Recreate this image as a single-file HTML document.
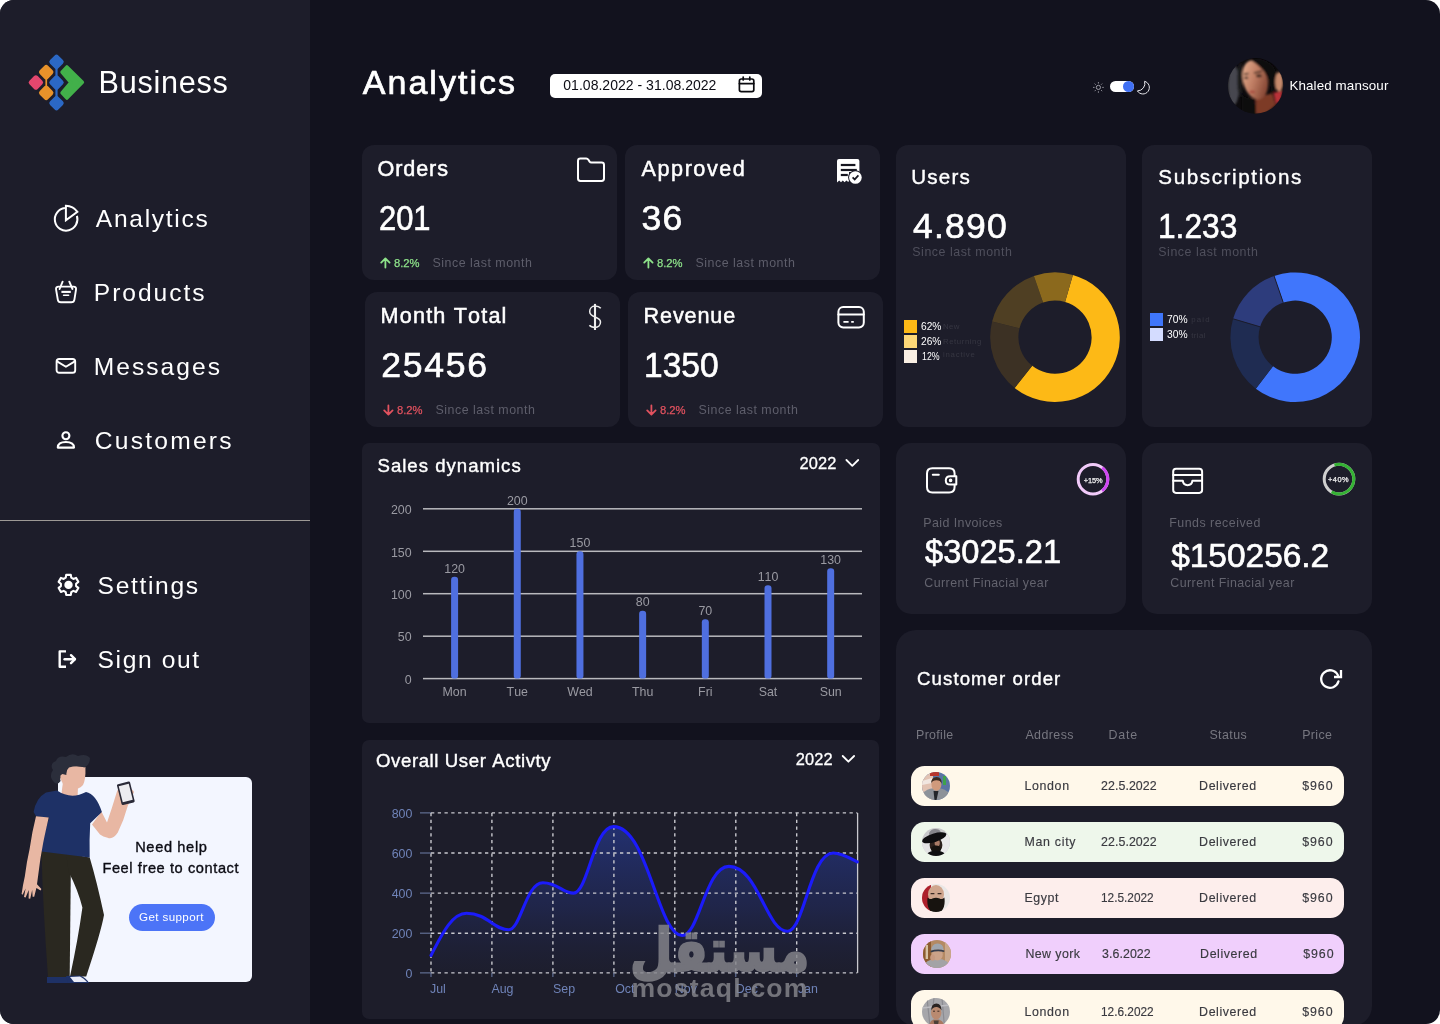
<!DOCTYPE html>
<html lang="en">
<head>
<meta charset="utf-8">
<title>Business Analytics Dashboard</title>
<style>
*{margin:0;padding:0;box-sizing:border-box}
html,body{width:1440px;height:1024px;overflow:hidden;background:#fff}
body{font-family:"Liberation Sans",sans-serif;font-kerning:none}
#app{position:absolute;left:0;top:0;width:1440px;height:1024px;background:#12121e;border-radius:14px;overflow:hidden}
.t{position:absolute;white-space:nowrap;line-height:1.2}
.b{position:absolute}
svg{position:absolute;overflow:visible}
.card{position:absolute;background:#1d1d2a}

</style>
</head>
<body>
<div id="app">
<div class="b" style="left:0;top:0;width:310px;height:1024px;background:#1d1d2a"></div>
<svg style="left:28px;top:54px" width="58" height="58" viewBox="28 54 58 58"><rect x="30.05" y="76.65" width="11.7" height="11.7" rx="2.6" transform="rotate(45 35.9 82.5)" fill="#e4476e"/><rect x="45.4" y="72" width="1.7" height="21" fill="#e8922a"/><rect x="40.35" y="66.35" width="11.7" height="11.7" rx="2.6" transform="rotate(45 46.2 72.2)" fill="#e8922a"/><rect x="40.35" y="86.95" width="11.7" height="11.7" rx="2.6" transform="rotate(45 46.2 92.8)" fill="#e8922a"/><rect x="55.4" y="62" width="2.2" height="41" fill="#2b68c5"/><rect x="50.65" y="56.05" width="11.7" height="11.7" rx="2.6" transform="rotate(45 56.5 61.9)" fill="#2b68c5"/><rect x="50.65" y="76.65" width="11.7" height="11.7" rx="2.6" transform="rotate(45 56.5 82.5)" fill="#2b68c5"/><rect x="50.65" y="97.25" width="11.7" height="11.7" rx="2.6" transform="rotate(45 56.5 103.1)" fill="#2b68c5"/><path d="M66.9 66.9 L82.4 82.3 L66.9 98.1 L62.0 92.9 L70.7 82.5 L62.0 72.2Z" fill="#42b04a" stroke="#42b04a" stroke-width="3.4" stroke-linejoin="round"/></svg>
<svg style="left:52px;top:204px" width="28" height="28" viewBox="0 0 28 28" fill="none" stroke="#fff" stroke-width="2" stroke-linecap="butt" stroke-linejoin="miter">
<path d="M12.9 4.1 A11.3 11.3 0 1 0 24.9 11.9"/>
<path d="M13.9 16.3 V1.7 A14.6 14.6 0 0 1 25.4 7.8 Z" stroke-linejoin="miter"/>
</svg>
<svg style="left:54px;top:280px" width="24" height="24" viewBox="0 0 24 24" fill="none" stroke="#fff" stroke-width="1.9" stroke-linecap="round" stroke-linejoin="round">
<path d="M4.6 6.6 H19.5 Q22.5 6.6 22 9.6 L20.4 19.6 Q20 22.3 17.2 22.3 H7 Q4.2 22.3 3.8 19.6 L2.1 9.6 Q1.6 6.6 4.6 6.6Z"/>
<path d="M8.6 1.7 L5.6 9"/><path d="M15.3 1.7 L18.5 9"/>
<path d="M7.4 11.9 H16.8" stroke-width="2.1" stroke-linecap="butt"/><path d="M9.6 15.3 H14.6" stroke-width="1.6"/>
</svg>
<svg style="left:55px;top:357px" width="22" height="18" viewBox="0 0 22 18" fill="none" stroke="#fff" stroke-width="1.9" stroke-linecap="round" stroke-linejoin="round">
<rect x="1.6" y="2" width="18.6" height="13.8" rx="2.6"/>
<path d="M2.4 4.6 L10.9 9.8 L19.4 4.6"/>
</svg>
<svg style="left:55px;top:430px" width="22" height="20" viewBox="0 0 22 20" fill="none" stroke="#fff" stroke-width="1.9" stroke-linecap="round" stroke-linejoin="round">
<circle cx="10.9" cy="5.7" r="3.5" stroke-width="2.1"/>
<path d="M2.8 17.6 Q2.8 12 10.9 12 Q19 12 19 17.6 Z" stroke-width="2.1"/>
</svg>
<div class="b" style="left:0;top:519.8px;width:310px;height:1.2px;background:#9d9995"></div>
<svg style="left:56px;top:573px" width="25" height="25" viewBox="0 0 25 25" fill="none" stroke="#fff" stroke-width="2.1" stroke-linejoin="round">
<path d="M9.74 4.71 L10.18 1.86 L14.82 1.86 L15.26 4.71 L17.35 5.92 L20.03 4.88 L22.35 8.89 L20.11 10.70 L20.11 13.10 L22.35 14.91 L20.03 18.92 L17.35 17.88 L15.26 19.09 L14.82 21.94 L10.18 21.94 L9.74 19.09 L7.65 17.88 L4.97 18.92 L2.65 14.91 L4.89 13.10 L4.89 10.70 L2.65 8.89 L4.97 4.88 L7.65 5.92Z"/>
<circle cx="12.5" cy="11.9" r="4.2" fill="#fff" stroke="none"/>
</svg>
<svg style="left:56px;top:648px" width="24" height="22" viewBox="0 0 24 22" fill="none" stroke="#fff" stroke-width="2.4" stroke-linejoin="round">
<path d="M10 3.4 H3.7 V18.8 H10" stroke-linecap="butt"/>
<path d="M8.6 11.2 H18.6" stroke-linecap="round"/><path d="M15 7.2 L19 11.2 L15 15.2" stroke-linecap="round"/>
</svg>
<div class="b" style="left:58px;top:777px;width:194px;height:205px;background:#f3f6ff;border-radius:6px"></div>
<svg style="left:20px;top:750px" width="125" height="236" viewBox="20 750 125 236">
<!-- pants: left leg -->
<path d="M41.4 851 L71 854 L69.7 977.4 L48 977.4 Q43 910 41.4 851Z" fill="#2a2820"/>
<!-- pants: right leg -->
<path d="M66 853 L89.7 857.4 Q97 882 104 915 Q101 932 86.2 976.4 L70 976.4 Q78 940 82.4 907.6 Q78 890 68.7 872Z" fill="#2a2820"/>
<!-- shoes -->
<path d="M47 977 L70 977 L72 983 L47 983Z" fill="#1e3166"/>
<path d="M66 976 L80 975.6 Q86 978 89 983 L68 983Z" fill="#1e3166"/>
<path d="M70 977 L80 976.4 Q85 979 87 982 L74 982Z" fill="#e9ecf7"/>
<!-- raised arm -->
<path d="M101.4 811.5 L107 822.6 Q112 808 116.5 793 Q117.5 788 122 786.5 L128 788 Q133 789 134 792 Q131 800 127.9 805.5 Q124 820 117.8 832.6 Q113 840 107.6 837.8 Q103 836.6 100 834.4 L92 824.6Z" fill="#e8b7a3"/>
<!-- phone -->
<g transform="rotate(-14 126 793)"><rect x="119" y="782.5" width="13.5" height="21.5" rx="1.4" fill="#2a2a38"/><rect x="120.6" y="784.6" width="10.3" height="16.6" fill="#ececf0"/></g>
<!-- neck & head -->
<path d="M63 782 L78 786 L77.5 799 L61 797Z" fill="#e8b7a3"/>
<path d="M59.5 774 Q60 765.5 72 766 L85.4 767 Q86 779 83 785 Q78 790.5 70 789 Q61 786 59.5 774Z" fill="#e8b7a3"/>
<!-- hair -->
<path d="M55 783 Q48 777 53 770 Q49 764 56 761 Q58 755 66 757 Q72 752 78 756 Q86 753 90 758 Q90 765 84.5 767.5 Q77 764.5 69 767.5 Q66 770 66.4 775 L62.4 774 Q59 775 60.6 781 Q58 785 55 783Z" fill="#2b2e3b"/>
<!-- shirt -->
<path d="M57 790.5 Q71 800 86 792 Q96 794 101.9 812 L90.2 823.2 Q89.2 840 89.7 857.6 L41.4 851.6 Q43 836 49.2 817.8 L36 816.3 L33.6 812 Q36 798 46 792.5Z" fill="#1e3166"/>
<!-- front arm (viewer's left) -->
<path d="M36 816.3 L48.7 817.6 Q45 834 43.3 842.2 L40.4 858.8 L37 884.2 L41.4 889 L40.6 890.4 L36.4 888 L34.2 896.8 L32.6 896.8 L32.2 890 L30.2 898.8 L28.6 898.6 L28.8 890 L25.6 897.6 L24 897 L25.6 888.6 L22.6 894.8 L21.6 894 Q23 884 24.8 876.4 Q26.6 862 29.6 849 Q32 832 36 816.3Z" fill="#e8b7a3"/>
</svg>

<div class="b" style="left:128.8px;top:904.3px;width:86.2px;height:26.4px;border-radius:14px;background:#4c74f7"></div>
<div class="b" style="left:550px;top:74px;width:212px;height:24px;border-radius:5px;background:#fff"></div>
<svg style="left:737px;top:76px" width="19" height="18" viewBox="0 0 19 18" fill="none" stroke="#0a0a0f" stroke-width="1.7" stroke-linecap="round" stroke-linejoin="round">
<rect x="2.4" y="3" width="14.4" height="12.6" rx="1.9"/><path d="M2.4 7.6 H16.8"/><path d="M6.2 1 V4"/><path d="M12.8 1 V4"/></svg>
<svg style="left:1092px;top:81px" width="13" height="13" viewBox="0 0 13 13" fill="none" stroke="#a9a9b2" stroke-width="0.9" stroke-linecap="butt">
<circle cx="6.4" cy="6.4" r="2.1"/>
<path d="M6.40 2.50 L6.40 1.10 M9.16 3.64 L10.15 2.65 M10.30 6.40 L11.70 6.40 M9.16 9.16 L10.15 10.15 M6.40 10.30 L6.40 11.70 M3.64 9.16 L2.65 10.15 M2.50 6.40 L1.10 6.40 M3.64 3.64 L2.65 2.65"/></svg>
<div class="b" style="left:1110px;top:81px;width:24.2px;height:11.4px;border-radius:6px;background:#fff"></div>
<div class="b" style="left:1122.9px;top:81px;width:11.4px;height:11.4px;border-radius:50%;background:#4070f4"></div>
<svg style="left:1136px;top:80px" width="15" height="16" viewBox="0 0 15 16" fill="none" stroke="#e9e9ee" stroke-width="1" stroke-linejoin="round">
<path d="M8.6 1.3 A6.45 6.45 0 1 1 1.4 10.9 A7.5 7.5 0 0 0 8.6 1.3Z"/></svg>
<svg style="left:1222px;top:52px" width="68" height="68" viewBox="0 0 1024 1024">
<defs>
<clipPath id="avc"><circle cx="505" cy="510" r="419"/></clipPath>
<filter id="avb" x="-20%" y="-20%" width="140%" height="140%"><feGaussianBlur stdDeviation="14"/></filter>
<linearGradient id="avf" x1="0.1" y1="0.1" x2="0.9" y2="0.9"><stop offset="0" stop-color="#e3ab8c"/><stop offset=".45" stop-color="#c07e64"/><stop offset="1" stop-color="#7a3c2b"/></linearGradient>
</defs>
<g clip-path="url(#avc)">
<rect width="1024" height="1024" fill="#0d0b0d"/>
<g filter="url(#avb)">
<ellipse cx="175" cy="500" rx="85" ry="300" fill="#46474f"/>
<ellipse cx="270" cy="420" rx="40" ry="260" fill="#1b1a1d"/>
<path d="M500 690 L760 620 L810 800 L650 940 L505 940Z" fill="#7d3a28"/>
<ellipse cx="500" cy="420" rx="185" ry="300" transform="rotate(-14 500 420)" fill="url(#avf)"/>
<path d="M430 120 Q600 60 760 200 Q850 320 840 520 L750 620 Q720 430 640 300 Q560 200 430 120Z" fill="#0c0a0c"/>
<path d="M300 640 Q380 720 500 700 L515 940 L300 940Z" fill="#0c0a0c"/>
<ellipse cx="860" cy="450" rx="60" ry="150" fill="#c68a6c"/>
<path d="M775 615 L915 585 L890 720 L815 795Z" fill="#b93038"/>
<path d="M330 335 L400 325 M480 315 L600 290" stroke="#3a2a22" stroke-width="22" fill="none"/>
<ellipse cx="365" cy="390" rx="32" ry="16" fill="#2a1c18"/><ellipse cx="555" cy="360" rx="45" ry="20" fill="#2a1c18"/>
<ellipse cx="455" cy="600" rx="45" ry="18" fill="#a8453c"/>
</g>
</g>
</svg>

<div class="card" style="left:362px;top:145px;width:255px;height:135px;border-radius:12px"></div>
<svg style="left:380px;top:257px" width="11" height="12" viewBox="0 0 11 12" fill="none" stroke="#8ee38a" stroke-width="1.8" stroke-linecap="round" stroke-linejoin="round"><path d="M5.4 10.6 V1.6 M1.2 5.6 L5.4 1.4 L9.6 5.6"/></svg>
<svg style="left:576px;top:156px" width="30" height="28" viewBox="0 0 30 28" fill="none" stroke="#fff" stroke-width="2" stroke-linecap="round" stroke-linejoin="round">
<path d="M2 5 Q2 2.6 4.4 2.6 H10.2 Q11.6 2.6 12.4 3.8 L13.6 5.6 Q14.2 6.4 15.4 6.4 H25.6 Q28 6.4 28 8.8 V22.6 Q28 25 25.6 25 H4.4 Q2 25 2 22.6Z"/></svg>
<div class="card" style="left:625px;top:145px;width:255px;height:135px;border-radius:12px"></div>
<svg style="left:643px;top:257px" width="11" height="12" viewBox="0 0 11 12" fill="none" stroke="#8ee38a" stroke-width="1.8" stroke-linecap="round" stroke-linejoin="round"><path d="M5.4 10.6 V1.6 M1.2 5.6 L5.4 1.4 L9.6 5.6"/></svg>
<svg style="left:836px;top:158px" width="28" height="28" viewBox="0 0 28 28">
<path d="M1 3 Q1 1 3 1 H21.4 Q23.4 1 23.4 3 V14 H13 V23 L12.2 24 L10.4 22.6 L8.6 24.2 L6.8 22.6 L5 24.2 L3.2 22.6 L1 24.4Z" fill="#fff"/>
<rect x="4.8" y="5.9" width="14.6" height="2.2" fill="#15151f"/><rect x="4.8" y="10.9" width="16" height="2.2" fill="#15151f"/><rect x="4.8" y="15.9" width="7" height="2.2" fill="#15151f"/>
<circle cx="19.4" cy="19.5" r="7.3" fill="#1d1d2a"/><circle cx="19.4" cy="19.5" r="6.3" fill="#fff"/>
<path d="M16.6 19.3 L18.7 21.4 L22.4 17.4" fill="none" stroke="#15151f" stroke-width="1.7" stroke-linecap="butt" stroke-linejoin="miter"/></svg>
<div class="card" style="left:365px;top:292px;width:255px;height:135px;border-radius:12px"></div>
<svg style="left:383px;top:404px" width="11" height="12" viewBox="0 0 11 12" fill="none" stroke="#e2525f" stroke-width="1.8" stroke-linecap="round" stroke-linejoin="round"><path d="M5.4 1.4 V10.4 M1.2 6.4 L5.4 10.6 L9.6 6.4"/></svg>
<svg style="left:0;top:0" width="1440" height="1024" viewBox="0 0 1440 1024" fill="none" stroke="#ededed" stroke-linecap="butt">
<path d="M600.8 308.3 C599.5 306.7 597.5 306 595 306 C591.8 306 589.7 308.6 589.7 311.5 C589.7 314.5 592 315.9 595 317 C598 318.1 600.5 319.3 600.5 322 C600.5 325.2 598.2 327.4 595 327.4 C592.6 327.4 590.5 326.8 589.4 325.3" stroke-width="1.5"/>
<path d="M595 303.9 V330" stroke-width="2.1"/></svg>
<div class="card" style="left:628px;top:292px;width:255px;height:135px;border-radius:12px"></div>
<svg style="left:646px;top:404px" width="11" height="12" viewBox="0 0 11 12" fill="none" stroke="#e2525f" stroke-width="1.8" stroke-linecap="round" stroke-linejoin="round"><path d="M5.4 1.4 V10.4 M1.2 6.4 L5.4 10.6 L9.6 6.4"/></svg>
<svg style="left:836px;top:305px" width="30" height="25" viewBox="0 0 30 25" fill="none" stroke="#fff" stroke-width="2" stroke-linecap="round" stroke-linejoin="round">
<rect x="2.4" y="2" width="25.4" height="20.4" rx="4.8"/><path d="M2.4 9.4 H27.8"/><path d="M7.4 16.9 H12.6 M15.2 16.9 H17.8" stroke-linecap="butt" stroke-width="1.9"/></svg>
<div class="card" style="left:896px;top:145.3px;width:230px;height:282px;border-radius:12px"></div>
<svg style="left:0;top:0" width="1440" height="1024" viewBox="0 0 1440 1024"><path d="M1072.86 274.91 A64.8 64.8 0 1 1 1014.66 387.91 L1032.22 365.84 A36.6 36.6 0 1 0 1065.09 302.02Z" fill="#fdb916"/><path d="M1014.66 387.91 A64.8 64.8 0 0 1 992.12 321.52 L1019.49 328.35 A36.6 36.6 0 0 0 1032.22 365.84Z" fill="#3c3124"/><path d="M992.12 321.52 A64.8 64.8 0 0 1 1033.90 275.93 L1043.08 302.59 A36.6 36.6 0 0 0 1019.49 328.35Z" fill="#4f3f23"/><path d="M1033.90 275.93 A64.8 64.8 0 0 1 1072.86 274.91 L1065.09 302.02 A36.6 36.6 0 0 0 1043.08 302.59Z" fill="#8b691d"/></svg>
<div class="b" style="left:903.8px;top:319.90px;width:13.4px;height:13px;background:#fdb916"></div>
<div class="b" style="left:903.8px;top:334.95px;width:13.4px;height:13px;background:#fdd877"></div>
<div class="b" style="left:903.8px;top:350.00px;width:13.4px;height:13px;background:#faf0e4"></div>
<div class="card" style="left:1142px;top:145.3px;width:230px;height:282px;border-radius:12px"></div>
<svg style="left:0;top:0" width="1440" height="1024" viewBox="0 0 1440 1024"><path d="M1274.10 275.93 A64.8 64.8 0 1 1 1255.84 388.68 L1272.97 366.28 A36.6 36.6 0 1 0 1283.28 302.59Z" fill="#4076fc"/><path d="M1255.84 388.68 A64.8 64.8 0 0 1 1233.07 318.80 L1260.11 326.81 A36.6 36.6 0 0 0 1272.97 366.28Z" fill="#1f2c52"/><path d="M1233.07 318.80 A64.8 64.8 0 0 1 1274.10 275.93 L1283.28 302.59 A36.6 36.6 0 0 0 1260.11 326.81Z" fill="#2d3c7c"/><path d="M1260.11 326.81 L1233.07 318.80" stroke="#1a1a26" stroke-width="0.9"/><path d="M1283.28 302.59 L1274.10 275.93" stroke="#1a1a26" stroke-width="0.9"/></svg>
<div class="b" style="left:1150.1px;top:313.20px;width:12.8px;height:12.5px;background:#3f76fb"></div>
<div class="b" style="left:1150.1px;top:328.40px;width:12.8px;height:12.5px;background:#d4dcff"></div>
<div class="card" style="left:896.2px;top:443px;width:229.8px;height:171px;border-radius:15px"></div>
<svg style="left:924px;top:466px" width="35" height="29" viewBox="0 0 35 29" fill="none" stroke="#fff" stroke-width="2" stroke-linecap="round" stroke-linejoin="round">
<path d="M30.6 10 V7.6 Q30.6 2.2 25.2 2.2 H8.4 Q3 2.2 3 7.6 V21.1 Q3 26.5 8.4 26.5 H25.2 Q30.6 26.5 30.6 21.1 V18.8"/>
<path d="M32.3 10.2 H26.4 Q21.8 10.2 21.8 14.4 Q21.8 18.6 26.4 18.6 H32.3Z"/>
<circle cx="26.6" cy="14.4" r="1.2" fill="#fff" stroke-width="1.2"/><path d="M8.8 8.8 H14.8"/></svg>
<svg style="left:0;top:0" width="1440" height="1024" viewBox="0 0 1440 1024" fill="none" stroke-width="3"><circle cx="1093" cy="479.2" r="14.8" stroke="#f1caf9"/><path d="M1102.31 467.70 A14.8 14.8 0 0 1 1102.11 490.86" stroke="#cf47f2"/></svg>
<div class="card" style="left:1142.2px;top:443px;width:229.8px;height:171px;border-radius:15px"></div>
<svg style="left:1170.8px;top:466.6px" width="35" height="29" viewBox="0 0 35 29" fill="none" stroke="#fff" stroke-width="2" stroke-linecap="round" stroke-linejoin="round">
<rect x="2.2" y="1.7" width="28.9" height="24.2" rx="2.8"/><path d="M2.2 7.9 H31.1"/>
<path d="M2.2 13.7 H11.8 Q12.2 18.2 16.6 18.2 Q21 18.2 21.4 13.7 H31.1"/></svg>
<svg style="left:0;top:0" width="1440" height="1024" viewBox="0 0 1440 1024" fill="none" stroke-width="3"><circle cx="1339" cy="479.1" r="14.8" stroke="#cfcfcf"/><path d="M1334.43 465.02 A14.8 14.8 0 1 1 1331.60 491.92" stroke="#35b234"/></svg>
<div class="card" style="left:896.3px;top:630.2px;width:475.7px;height:396px;border-radius:20px"></div>
<svg style="left:1318px;top:667px" width="26" height="25" viewBox="0 0 26 25" fill="none" stroke="#fff" stroke-width="2.3">
<path d="M19.9 8.2 A8.8 8.8 0 1 0 20.5 14.3" stroke-linecap="round"/><path d="M16 10 H23 V2.9" stroke-linecap="butt" stroke-linejoin="miter"/></svg>
<div class="b" style="left:896.3px;top:630.2px;width:475.7px;height:396px;border-radius:20px;overflow:hidden">
<div class="b" style="left:14.5px;top:135.8px;width:433.4px;height:40px;border-radius:13.5px;background:#fff8ea"></div>
<svg style="left:25.5px;top:141.8px" width="28" height="28" viewBox="0 0 28 28"><defs><clipPath id="avc0"><circle cx="14" cy="14" r="14"/></clipPath></defs><g clip-path="url(#avc0)"><rect width="28" height="28" fill="#5a74a2"/><rect width="11" height="28" fill="#e2c2b2"/><path d="M0 9 L10 6 L10 11 L0 13Z" fill="#f1e6e0"/><rect x="21" y="4" width="3" height="9" fill="#3fa34a"/><rect x="8" y="0" width="9" height="4" fill="#b8352c"/><ellipse cx="14" cy="27" rx="15.5" ry="11" fill="#8d9299"/><path d="M11.5 19 L16.5 19 L14.5 28 L12.5 28Z" fill="#22252a"/><ellipse cx="14.4" cy="12.6" rx="5" ry="6.2" fill="#d09a7c"/><path d="M9.2 11.5 Q9 5.2 14.6 5 Q20 5.2 19.6 11.6 Q18.6 8.2 14.4 8.2 Q10.4 8.2 9.2 11.5Z" fill="#3b2a20"/></g></svg>
<div class="b" style="left:14.5px;top:191.8px;width:433.4px;height:40px;border-radius:13.5px;background:#eef7eb"></div>
<svg style="left:25.5px;top:197.8px" width="28" height="28" viewBox="0 0 28 28"><defs><clipPath id="avc1"><circle cx="14" cy="14" r="14"/></clipPath></defs><g clip-path="url(#avc1)"><rect width="28" height="28" fill="#c9c9cb"/><ellipse cx="24" cy="16" rx="7" ry="10" fill="#e9e9ea"/><ellipse cx="3" cy="20" rx="6" ry="8" fill="#e3e3e4"/><ellipse cx="13" cy="5.6" rx="6" ry="4.6" transform="rotate(-12 13 5.6)" fill="#85858a"/><ellipse cx="14" cy="17" rx="6.4" ry="7.6" fill="#2c211d"/><ellipse cx="15.2" cy="15" rx="2.6" ry="3.4" fill="#a97b66"/><ellipse cx="12.2" cy="9.8" rx="12.6" ry="4.3" transform="rotate(-17 12.2 9.8)" fill="#0e0e10"/><ellipse cx="14" cy="21" rx="5" ry="3.4" fill="#15120f"/><ellipse cx="14" cy="28" rx="10" ry="5.4" fill="#0e0e10"/></g></svg>
<div class="b" style="left:14.5px;top:248.0px;width:433.4px;height:40px;border-radius:13.5px;background:#fdeeec"></div>
<svg style="left:25.5px;top:254.0px" width="28" height="28" viewBox="0 0 28 28"><defs><clipPath id="avc2"><circle cx="14" cy="14" r="14"/></clipPath></defs><g clip-path="url(#avc2)"><rect width="28" height="28" fill="#e9e7e6"/><rect width="9" height="28" fill="#ad1f2b"/><ellipse cx="14" cy="10.4" rx="8" ry="9.4" fill="#cfa68e"/><path d="M8.6 9.6 H12.4 M15.6 9.6 H19.4" stroke="#3a2a24" stroke-width="1.3"/><path d="M5.6 13.5 Q8 16 10.4 14.6 Q14 13 17.6 14.6 Q20 16 22.4 13.5 Q23.6 22 19.6 27 Q14 30 8.4 27 Q4.4 22 5.6 13.5Z" fill="#17130f"/></g></svg>
<div class="b" style="left:14.5px;top:303.9px;width:433.4px;height:40px;border-radius:13.5px;background:#f0cffc"></div>
<svg style="left:26.5px;top:309.9px" width="28" height="28" viewBox="0 0 28 28"><defs><clipPath id="avc3"><circle cx="14" cy="14" r="14"/></clipPath></defs><g clip-path="url(#avc3)"><rect width="28" height="28" fill="#b48a64"/><rect width="8" height="28" fill="#8c5c30"/><rect x="22" y="0" width="6" height="28" fill="#caa88c"/><rect x="2.6" y="5" width="2.4" height="14" fill="#d7c3a4"/><ellipse cx="14" cy="28" rx="13.5" ry="9.6" fill="#a3a3a6"/><ellipse cx="14.4" cy="14.4" rx="5.4" ry="6.2" fill="#cba389"/><ellipse cx="9.6" cy="17.6" rx="2.4" ry="3.2" fill="#c79a80"/><path d="M8.2 10.6 Q8.4 3.6 14.6 3.4 Q20.4 3.6 20.8 10.2 Q14.6 8.6 8.2 10.6Z" fill="#9fa5ad"/><path d="M7.6 10.8 Q14.4 8.6 21.4 10.4 L21.2 12 Q14.4 10.4 7.8 12.4Z" fill="#363d4c"/></g></svg>
<div class="b" style="left:14.5px;top:360.1px;width:433.4px;height:40px;border-radius:13.5px;background:#fff8ea"></div>
<svg style="left:25.5px;top:368.1px" width="28" height="28" viewBox="0 0 28 28"><defs><clipPath id="avc4"><circle cx="14" cy="14" r="14"/></clipPath></defs><g clip-path="url(#avc4)"><rect width="28" height="28" fill="#a6a6aa"/><path d="M5 0 L8 28 M20 0 L22.4 28 M12 0 L11 8" stroke="#8c8c92" stroke-width="1.2" fill="none"/><path d="M0 10 L28 7" stroke="#bdbdc2" stroke-width="1.4"/><path d="M7 28 Q8 22.6 11.4 21.6 L17 21.6 Q21.6 23 22.4 28Z" fill="#a9785f"/><path d="M11.6 22.4 L16.8 22.4 L16 27 L12.4 27Z" fill="#4d4038"/><ellipse cx="14.2" cy="14.8" rx="5.2" ry="6.8" fill="#b98a70"/><path d="M9 12.6 Q9.4 5.6 14.4 5.6 Q19.4 5.8 19.6 12.4 Q17.6 8.8 14.2 8.9 Q10.8 9 9 12.6Z" fill="#2a2321"/><path d="M11 13.2 H13 M15.4 13.2 H17.4" stroke="#3a2a24" stroke-width="1"/></g></svg>
</div>
<div class="card" style="left:362px;top:443px;width:518px;height:279.5px;border-radius:7px"></div>
<svg style="left:844px;top:457px" width="16" height="12" viewBox="0 0 16 12" fill="none" stroke="#fff" stroke-width="1.8" stroke-linecap="round" stroke-linejoin="round"><path d="M2.4 3 L8.3 8.9 L14.2 3"/></svg>
<svg style="left:0;top:0" width="1440" height="1024" viewBox="0 0 1440 1024"><rect x="423" y="508.05" width="439" height="1.5" fill="#b9b9bd"/><rect x="423" y="550.55" width="439" height="1.5" fill="#b9b9bd"/><rect x="423" y="592.95" width="439" height="1.5" fill="#b9b9bd"/><rect x="423" y="635.45" width="439" height="1.5" fill="#b9b9bd"/><rect x="423" y="677.85" width="439" height="1.5" fill="#b9b9bd"/><rect x="451.10" y="576.72" width="7" height="101.88" rx="3.2" fill="#4f6fdf"/><rect x="513.78" y="508.80" width="7" height="169.80" rx="3.2" fill="#4f6fdf"/><rect x="576.46" y="551.25" width="7" height="127.35" rx="3.2" fill="#4f6fdf"/><rect x="639.14" y="610.68" width="7" height="67.92" rx="3.2" fill="#4f6fdf"/><rect x="701.82" y="619.17" width="7" height="59.43" rx="3.2" fill="#4f6fdf"/><rect x="764.50" y="585.21" width="7" height="93.39" rx="3.2" fill="#4f6fdf"/><rect x="827.18" y="568.23" width="7" height="110.37" rx="3.2" fill="#4f6fdf"/></svg>
<div class="card" style="left:361.5px;top:739.5px;width:517.5px;height:279px;border-radius:7px"></div>
<svg style="left:840px;top:753px" width="16" height="12" viewBox="0 0 16 12" fill="none" stroke="#fff" stroke-width="1.8" stroke-linecap="round" stroke-linejoin="round"><path d="M2.7 3 L8.4 8.7 L14.1 3"/></svg>
<svg style="left:0;top:0" width="1440" height="1024" viewBox="0 0 1440 1024"><defs><linearGradient id="ag" x1="0" y1="826" x2="0" y2="973" gradientUnits="userSpaceOnUse"><stop offset="0" stop-color="#24347e" stop-opacity=".85"/><stop offset=".55" stop-color="#222c63" stop-opacity=".55"/><stop offset="1" stop-color="#1f2547" stop-opacity=".12"/></linearGradient></defs><path d="M431.0 955.4 C440.0 938.4 450.8 913.3 466.5 913.3 C487.5 913.3 493.4 929.8 508.5 929.8 C520.9 929.8 525.7 882.8 542.9 882.8 C558.2 882.8 562.5 893.1 573.5 893.1 C587.9 893.1 593.5 826.6 613.6 826.6 C648.0 826.6 657.6 935.5 682.3 935.5 C699.1 935.5 705.6 866.4 728.9 866.4 C758.1 866.4 766.3 931.3 787.4 931.3 C803.9 931.3 810.3 853.0 833.2 853.0 C841.3 853.0 849.3 857.8 857.3 861.8 L857.3 972.9 L431 972.9Z" fill="url(#ag)"/><path d="M431 812.9 H857.3" stroke="#c8c8ce" stroke-width="1.4" stroke-dasharray="3.3 3.45" fill="none"/><path d="M420 812.9 H431" stroke="#6f7fa8" stroke-width="1" fill="none"/><path d="M431 853 H857.3" stroke="#c8c8ce" stroke-width="1.4" stroke-dasharray="3.3 3.45" fill="none"/><path d="M420 853 H431" stroke="#6f7fa8" stroke-width="1" fill="none"/><path d="M431 893.1 H857.3" stroke="#c8c8ce" stroke-width="1.4" stroke-dasharray="3.3 3.45" fill="none"/><path d="M420 893.1 H431" stroke="#6f7fa8" stroke-width="1" fill="none"/><path d="M431 933.2 H857.3" stroke="#c8c8ce" stroke-width="1.4" stroke-dasharray="3.3 3.45" fill="none"/><path d="M420 933.2 H431" stroke="#6f7fa8" stroke-width="1" fill="none"/><path d="M431 972.9 H857.3" stroke="#c8c8ce" stroke-width="1.4" stroke-dasharray="3.3 3.45" fill="none"/><path d="M420 972.9 H431" stroke="#6f7fa8" stroke-width="1" fill="none"/><path d="M431.0 812.9 V972.9" stroke="#c8c8ce" stroke-width="1.4" stroke-dasharray="3.3 3.45" fill="none"/><path d="M431.0 972.9 V977" stroke="#6f7fa8" stroke-width="1" fill="none"/><path d="M491.9 812.9 V972.9" stroke="#c8c8ce" stroke-width="1.4" stroke-dasharray="3.3 3.45" fill="none"/><path d="M491.9 972.9 V977" stroke="#6f7fa8" stroke-width="1" fill="none"/><path d="M552.9 812.9 V972.9" stroke="#c8c8ce" stroke-width="1.4" stroke-dasharray="3.3 3.45" fill="none"/><path d="M552.9 972.9 V977" stroke="#6f7fa8" stroke-width="1" fill="none"/><path d="M613.9 812.9 V972.9" stroke="#c8c8ce" stroke-width="1.4" stroke-dasharray="3.3 3.45" fill="none"/><path d="M613.9 972.9 V977" stroke="#6f7fa8" stroke-width="1" fill="none"/><path d="M674.8 812.9 V972.9" stroke="#c8c8ce" stroke-width="1.4" stroke-dasharray="3.3 3.45" fill="none"/><path d="M674.8 972.9 V977" stroke="#6f7fa8" stroke-width="1" fill="none"/><path d="M735.8 812.9 V972.9" stroke="#c8c8ce" stroke-width="1.4" stroke-dasharray="3.3 3.45" fill="none"/><path d="M735.8 972.9 V977" stroke="#6f7fa8" stroke-width="1" fill="none"/><path d="M796.7 812.9 V972.9" stroke="#c8c8ce" stroke-width="1.4" stroke-dasharray="3.3 3.45" fill="none"/><path d="M796.7 972.9 V977" stroke="#6f7fa8" stroke-width="1" fill="none"/><path d="M857.6 812.9 V972.9" stroke="#c9c9cf" stroke-width="1.3" fill="none"/><path d="M431.0 955.4 C440.0 938.4 450.8 913.3 466.5 913.3 C487.5 913.3 493.4 929.8 508.5 929.8 C520.9 929.8 525.7 882.8 542.9 882.8 C558.2 882.8 562.5 893.1 573.5 893.1 C587.9 893.1 593.5 826.6 613.6 826.6 C648.0 826.6 657.6 935.5 682.3 935.5 C699.1 935.5 705.6 866.4 728.9 866.4 C758.1 866.4 766.3 931.3 787.4 931.3 C803.9 931.3 810.3 853.0 833.2 853.0 C841.3 853.0 849.3 857.8 857.3 861.8" stroke="#1b1bfa" stroke-width="3.1" fill="none" stroke-linecap="round"/></svg>
<span class="t" style="left:98.50px;top:64.00px;font-size:30.6px;color:#fff;letter-spacing:0.737px;">Business</span>
<span class="t" style="left:95.80px;top:204.00px;font-size:24.6px;color:#fff;letter-spacing:1.697px;">Analytics</span>
<span class="t" style="left:93.80px;top:278.00px;font-size:24.6px;color:#fff;letter-spacing:1.948px;">Products</span>
<span class="t" style="left:93.80px;top:352.00px;font-size:24.6px;color:#fff;letter-spacing:2.015px;">Messages</span>
<span class="t" style="left:94.80px;top:426.00px;font-size:24.6px;color:#fff;letter-spacing:2.236px;">Customers</span>
<span class="t" style="left:97.60px;top:570.70px;font-size:24.6px;color:#fff;letter-spacing:1.660px;">Settings</span>
<span class="t" style="left:97.60px;top:645.00px;font-size:24.6px;color:#fff;letter-spacing:1.598px;">Sign out</span>
<span class="t" style="left:135.20px;top:838.70px;font-size:14.6px;color:#0c0c14;letter-spacing:0.646px;-webkit-text-stroke:0.35px #0c0c14;">Need help</span>
<span class="t" style="left:102.40px;top:859.80px;font-size:14.6px;color:#0c0c14;letter-spacing:0.590px;-webkit-text-stroke:0.35px #0c0c14;">Feel free to contact</span>
<span class="t" style="left:139.00px;top:909.80px;font-size:11.6px;color:#fff;letter-spacing:0.393px;">Get support</span>
<span class="t" style="left:362.80px;top:61.70px;font-size:34px;color:#fff;letter-spacing:2.017px;-webkit-text-stroke:0.7px #fff;">Analytics</span>
<span class="t" style="left:563.30px;top:77.30px;font-size:14px;color:#0c0c14;letter-spacing:0.023px;">01.08.2022 - 31.08.2022</span>
<span class="t" style="left:1289.40px;top:78.40px;font-size:13.4px;color:#fff;letter-spacing:0.111px;">Khaled mansour</span>
<span class="t" style="left:377.60px;top:156.00px;font-size:21.6px;color:#fff;letter-spacing:0.879px;-webkit-text-stroke:0.5px #fff;">Orders</span>
<span class="t" style="left:378.53px;top:197.00px;font-size:35.6px;color:#fff;-webkit-text-stroke:0.65px #fff;transform:scaleX(0.8682);transform-origin:0 0;">201</span>
<span class="t" style="left:393.50px;top:256.00px;font-size:11.8px;color:#8ee38a;-webkit-text-stroke:0.25px #8ee38a;transform:scaleX(0.9525);transform-origin:0 0;">8.2%</span>
<span class="t" style="left:432.50px;top:256.00px;font-size:12.4px;color:#5e5e6b;letter-spacing:0.519px;">Since last month</span>
<span class="t" style="left:641.60px;top:156.00px;font-size:21.6px;color:#fff;letter-spacing:1.537px;-webkit-text-stroke:0.5px #fff;">Approved</span>
<span class="t" style="left:641.60px;top:197.00px;font-size:35.6px;color:#fff;letter-spacing:1.209px;-webkit-text-stroke:0.65px #fff;">36</span>
<span class="t" style="left:656.50px;top:256.00px;font-size:11.8px;color:#8ee38a;-webkit-text-stroke:0.25px #8ee38a;transform:scaleX(0.9525);transform-origin:0 0;">8.2%</span>
<span class="t" style="left:695.50px;top:256.00px;font-size:12.4px;color:#5e5e6b;letter-spacing:0.519px;">Since last month</span>
<span class="t" style="left:380.60px;top:303.00px;font-size:21.6px;color:#fff;letter-spacing:1.177px;-webkit-text-stroke:0.5px #fff;">Month Total</span>
<span class="t" style="left:381.20px;top:344.00px;font-size:35.6px;color:#fff;letter-spacing:1.737px;-webkit-text-stroke:0.65px #fff;">25456</span>
<span class="t" style="left:396.50px;top:403.00px;font-size:11.8px;color:#e2525f;-webkit-text-stroke:0.25px #e2525f;transform:scaleX(0.9525);transform-origin:0 0;">8.2%</span>
<span class="t" style="left:435.50px;top:403.00px;font-size:12.4px;color:#5e5e6b;letter-spacing:0.519px;">Since last month</span>
<span class="t" style="left:643.60px;top:303.00px;font-size:21.6px;color:#fff;letter-spacing:0.859px;-webkit-text-stroke:0.5px #fff;">Revenue</span>
<span class="t" style="left:644.22px;top:344.00px;font-size:35.6px;color:#fff;-webkit-text-stroke:0.65px #fff;transform:scaleX(0.9415);transform-origin:0 0;">1350</span>
<span class="t" style="left:659.50px;top:403.00px;font-size:11.8px;color:#e2525f;-webkit-text-stroke:0.25px #e2525f;transform:scaleX(0.9525);transform-origin:0 0;">8.2%</span>
<span class="t" style="left:698.50px;top:403.00px;font-size:12.4px;color:#5e5e6b;letter-spacing:0.519px;">Since last month</span>
<span class="t" style="left:911.30px;top:164.80px;font-size:20.6px;color:#fff;letter-spacing:1.179px;-webkit-text-stroke:0.4px #fff;">Users</span>
<span class="t" style="left:912.90px;top:204.60px;font-size:35.5px;color:#fff;letter-spacing:1.275px;-webkit-text-stroke:0.65px #fff;">4.890</span>
<span class="t" style="left:912.30px;top:244.70px;font-size:12.4px;color:#4f4f5c;letter-spacing:0.532px;">Since last month</span>
<span class="t" style="left:921.30px;top:319.80px;font-size:10.6px;color:#fff;transform:scaleX(0.9594);transform-origin:0 0;">62%</span>
<span class="t" style="left:943.00px;top:322.00px;font-size:7.8px;color:#363642;letter-spacing:0.411px;">New</span>
<span class="t" style="left:921.30px;top:334.90px;font-size:10.6px;color:#fff;transform:scaleX(0.9594);transform-origin:0 0;">26%</span>
<span class="t" style="left:943.00px;top:336.90px;font-size:7.8px;color:#363642;letter-spacing:0.565px;">Returning</span>
<span class="t" style="left:922.00px;top:349.90px;font-size:10.6px;color:#fff;transform:scaleX(0.8309);transform-origin:0 0;">12%</span>
<span class="t" style="left:943.00px;top:350.00px;font-size:7.8px;color:#363642;letter-spacing:0.771px;">inactive</span>
<span class="t" style="left:1158.30px;top:164.80px;font-size:20.6px;color:#fff;letter-spacing:1.614px;-webkit-text-stroke:0.4px #fff;">Subscriptions</span>
<span class="t" style="left:1158.02px;top:204.60px;font-size:35.5px;color:#fff;-webkit-text-stroke:0.65px #fff;transform:scaleX(0.8920);transform-origin:0 0;">1.233</span>
<span class="t" style="left:1158.30px;top:244.70px;font-size:12.4px;color:#4f4f5c;letter-spacing:0.532px;">Since last month</span>
<span class="t" style="left:1167.10px;top:312.90px;font-size:10.6px;color:#fff;transform:scaleX(0.9686);transform-origin:0 0;">70%</span>
<span class="t" style="left:1191.20px;top:315.30px;font-size:7.8px;color:#363642;letter-spacing:1.229px;">paid</span>
<span class="t" style="left:1167.10px;top:328.10px;font-size:10.6px;color:#fff;transform:scaleX(0.9686);transform-origin:0 0;">30%</span>
<span class="t" style="left:1191.20px;top:330.50px;font-size:7.8px;color:#363642;letter-spacing:0.439px;">trial</span>
<span class="t" style="left:1083.80px;top:477.00px;font-size:7.4px;color:#f2f2f2;letter-spacing:-0.113px;-webkit-text-stroke:0.25px #f2f2f2;">+15%</span>
<span class="t" style="left:923.30px;top:516.30px;font-size:12.4px;color:#63636e;letter-spacing:0.433px;">Paid Invoices</span>
<span class="t" style="left:925.20px;top:531.80px;font-size:33.5px;color:#fff;-webkit-text-stroke:0.65px #fff;transform:scaleX(0.9739);transform-origin:0 0;">$3025.21</span>
<span class="t" style="left:924.30px;top:576.10px;font-size:12.4px;color:#63636e;letter-spacing:0.451px;">Current Finacial year</span>
<span class="t" style="left:1328.00px;top:476.00px;font-size:7.4px;color:#f2f2f2;letter-spacing:0.487px;-webkit-text-stroke:0.25px #f2f2f2;">+40%</span>
<span class="t" style="left:1169.30px;top:516.30px;font-size:12.4px;color:#63636e;letter-spacing:0.490px;">Funds received</span>
<span class="t" style="left:1171.20px;top:536.20px;font-size:33.5px;color:#fff;letter-spacing:-0.041px;-webkit-text-stroke:0.65px #fff;">$150256.2</span>
<span class="t" style="left:1170.30px;top:576.10px;font-size:12.4px;color:#63636e;letter-spacing:0.451px;">Current Finacial year</span>
<span class="t" style="left:917.10px;top:667.70px;font-size:18.6px;color:#fff;letter-spacing:1.078px;-webkit-text-stroke:0.4px #fff;">Customer order</span>
<span class="t" style="left:916.10px;top:727.50px;font-size:12.4px;color:#777780;letter-spacing:0.311px;">Profile</span>
<span class="t" style="left:1025.40px;top:727.50px;font-size:12.4px;color:#777780;letter-spacing:0.438px;">Address</span>
<span class="t" style="left:1108.40px;top:727.50px;font-size:12.4px;color:#777780;letter-spacing:0.835px;">Date</span>
<span class="t" style="left:1209.40px;top:727.50px;font-size:12.4px;color:#777780;letter-spacing:0.451px;">Status</span>
<span class="t" style="left:1302.20px;top:727.50px;font-size:12.4px;color:#777780;letter-spacing:0.364px;">Price</span>
<span class="t" style="left:1024.40px;top:779.00px;font-size:12.4px;color:#3a3a40;letter-spacing:0.666px;-webkit-text-stroke:0.15px #3a3a40;">London</span>
<span class="t" style="left:1101.10px;top:779.00px;font-size:12.4px;color:#3a3a40;letter-spacing:0.046px;-webkit-text-stroke:0.15px #3a3a40;">22.5.2022</span>
<span class="t" style="left:1199.10px;top:779.00px;font-size:12.4px;color:#3a3a40;letter-spacing:0.593px;-webkit-text-stroke:0.15px #3a3a40;">Delivered</span>
<span class="t" style="left:1302.20px;top:779.00px;font-size:12.4px;color:#3a3a40;letter-spacing:0.938px;-webkit-text-stroke:0.15px #3a3a40;">$960</span>
<span class="t" style="left:1024.40px;top:835.00px;font-size:12.4px;color:#3a3a40;letter-spacing:0.708px;-webkit-text-stroke:0.15px #3a3a40;">Man city</span>
<span class="t" style="left:1101.10px;top:835.00px;font-size:12.4px;color:#3a3a40;letter-spacing:0.046px;-webkit-text-stroke:0.15px #3a3a40;">22.5.2022</span>
<span class="t" style="left:1199.10px;top:835.00px;font-size:12.4px;color:#3a3a40;letter-spacing:0.593px;-webkit-text-stroke:0.15px #3a3a40;">Delivered</span>
<span class="t" style="left:1302.20px;top:835.00px;font-size:12.4px;color:#3a3a40;letter-spacing:0.938px;-webkit-text-stroke:0.15px #3a3a40;">$960</span>
<span class="t" style="left:1024.40px;top:891.20px;font-size:12.4px;color:#3a3a40;letter-spacing:0.589px;-webkit-text-stroke:0.15px #3a3a40;">Egypt</span>
<span class="t" style="left:1101.10px;top:891.20px;font-size:12.4px;color:#3a3a40;-webkit-text-stroke:0.15px #3a3a40;transform:scaleX(0.9559);transform-origin:0 0;">12.5.2022</span>
<span class="t" style="left:1199.10px;top:891.20px;font-size:12.4px;color:#3a3a40;letter-spacing:0.593px;-webkit-text-stroke:0.15px #3a3a40;">Delivered</span>
<span class="t" style="left:1302.20px;top:891.20px;font-size:12.4px;color:#3a3a40;letter-spacing:0.938px;-webkit-text-stroke:0.15px #3a3a40;">$960</span>
<span class="t" style="left:1025.40px;top:947.10px;font-size:12.4px;color:#3a3a40;letter-spacing:0.422px;-webkit-text-stroke:0.15px #3a3a40;">New york</span>
<span class="t" style="left:1102.10px;top:947.10px;font-size:12.4px;color:#3a3a40;letter-spacing:0.051px;-webkit-text-stroke:0.15px #3a3a40;">3.6.2022</span>
<span class="t" style="left:1200.10px;top:947.10px;font-size:12.4px;color:#3a3a40;letter-spacing:0.593px;-webkit-text-stroke:0.15px #3a3a40;">Delivered</span>
<span class="t" style="left:1303.20px;top:947.10px;font-size:12.4px;color:#3a3a40;letter-spacing:0.938px;-webkit-text-stroke:0.15px #3a3a40;">$960</span>
<span class="t" style="left:1024.40px;top:1004.90px;font-size:12.4px;color:#3a3a40;letter-spacing:0.666px;-webkit-text-stroke:0.15px #3a3a40;">London</span>
<span class="t" style="left:1101.10px;top:1004.90px;font-size:12.4px;color:#3a3a40;-webkit-text-stroke:0.15px #3a3a40;transform:scaleX(0.9559);transform-origin:0 0;">12.6.2022</span>
<span class="t" style="left:1199.10px;top:1004.90px;font-size:12.4px;color:#3a3a40;letter-spacing:0.593px;-webkit-text-stroke:0.15px #3a3a40;">Delivered</span>
<span class="t" style="left:1302.20px;top:1004.90px;font-size:12.4px;color:#3a3a40;letter-spacing:0.938px;-webkit-text-stroke:0.15px #3a3a40;">$960</span>
<span class="t" style="left:377.50px;top:454.60px;font-size:18.6px;color:#fff;letter-spacing:0.998px;-webkit-text-stroke:0.4px #fff;">Sales dynamics</span>
<span class="t" style="left:799.60px;top:454.30px;font-size:16.4px;color:#fff;letter-spacing:0.082px;-webkit-text-stroke:0.3px #fff;">2022</span>
<span class="t" style="left:390.91px;top:503.00px;font-size:12.4px;color:#9a9aa2;">200</span>
<span class="t" style="left:390.91px;top:545.50px;font-size:12.4px;color:#9a9aa2;">150</span>
<span class="t" style="left:390.91px;top:587.90px;font-size:12.4px;color:#9a9aa2;">100</span>
<span class="t" style="left:397.80px;top:630.40px;font-size:12.4px;color:#9a9aa2;">50</span>
<span class="t" style="left:404.69px;top:672.80px;font-size:12.4px;color:#9a9aa2;">0</span>
<span class="t" style="left:444.26px;top:561.52px;font-size:12.4px;color:#9a9aa2;">120</span>
<span class="t" style="left:442.55px;top:684.80px;font-size:12.4px;color:#9a9aa2;">Mon</span>
<span class="t" style="left:506.94px;top:493.60px;font-size:12.4px;color:#9a9aa2;">200</span>
<span class="t" style="left:506.60px;top:684.80px;font-size:12.4px;color:#9a9aa2;">Tue</span>
<span class="t" style="left:569.62px;top:536.05px;font-size:12.4px;color:#9a9aa2;">150</span>
<span class="t" style="left:567.22px;top:684.80px;font-size:12.4px;color:#9a9aa2;">Wed</span>
<span class="t" style="left:635.74px;top:595.48px;font-size:12.4px;color:#9a9aa2;">80</span>
<span class="t" style="left:631.96px;top:684.80px;font-size:12.4px;color:#9a9aa2;">Thu</span>
<span class="t" style="left:698.42px;top:603.97px;font-size:12.4px;color:#9a9aa2;">70</span>
<span class="t" style="left:698.09px;top:684.80px;font-size:12.4px;color:#9a9aa2;">Fri</span>
<span class="t" style="left:757.66px;top:570.01px;font-size:12.4px;color:#9a9aa2;">110</span>
<span class="t" style="left:758.70px;top:684.80px;font-size:12.4px;color:#9a9aa2;">Sat</span>
<span class="t" style="left:820.34px;top:553.03px;font-size:12.4px;color:#9a9aa2;">130</span>
<span class="t" style="left:819.66px;top:684.80px;font-size:12.4px;color:#9a9aa2;">Sun</span>
<span class="t" style="left:376.00px;top:750.00px;font-size:18.6px;color:#fff;letter-spacing:0.597px;-webkit-text-stroke:0.4px #fff;">Overall User Activty</span>
<span class="t" style="left:795.80px;top:750.10px;font-size:16.4px;color:#fff;letter-spacing:0.082px;-webkit-text-stroke:0.3px #fff;">2022</span>
<span class="t" style="left:391.71px;top:806.50px;font-size:12.4px;color:#6f83b8;">800</span>
<span class="t" style="left:391.71px;top:846.60px;font-size:12.4px;color:#6f83b8;">600</span>
<span class="t" style="left:391.71px;top:886.70px;font-size:12.4px;color:#6f83b8;">400</span>
<span class="t" style="left:391.71px;top:926.80px;font-size:12.4px;color:#6f83b8;">200</span>
<span class="t" style="left:405.49px;top:966.50px;font-size:12.4px;color:#6f83b8;">0</span>
<span class="t" style="left:430.00px;top:981.80px;font-size:12.4px;color:#6f83b8;">Jul</span>
<span class="t" style="left:491.45px;top:981.80px;font-size:12.4px;color:#6f83b8;">Aug</span>
<span class="t" style="left:553.10px;top:981.80px;font-size:12.4px;color:#6f83b8;">Sep</span>
<span class="t" style="left:615.15px;top:981.80px;font-size:12.4px;color:#6f83b8;">Oct</span>
<span class="t" style="left:674.80px;top:981.80px;font-size:12.4px;color:#6f83b8;">Nov</span>
<span class="t" style="left:735.85px;top:981.80px;font-size:12.4px;color:#6f83b8;">Dec</span>
<span class="t" style="left:797.90px;top:981.80px;font-size:12.4px;color:#6f83b8;">Jan</span>
<span class="t" style="left:631.50px;top:973.20px;font-size:26.6px;color:#86868c;font-weight:700;letter-spacing:1.191px;opacity:.82;">mostaql.com</span>
<span class="t" lang="ar" dir="rtl" style="left:630.1px;top:916.6px;font:700 49px/1.2 'DejaVu Sans',sans-serif;color:#86868c;-webkit-text-stroke:2px #86868c;opacity:.82;transform:scaleY(1.2);transform-origin:0 0">مستقل</span>
</div>
</body>
</html>
